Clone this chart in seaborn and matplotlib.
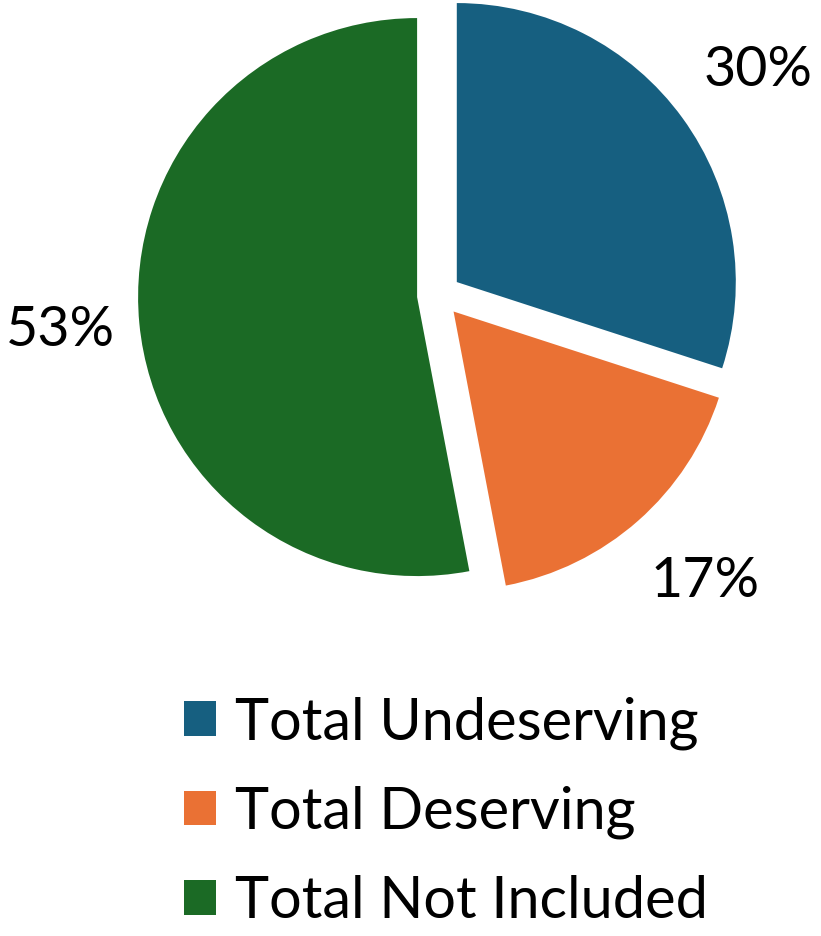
import matplotlib
matplotlib.use("Agg")
import matplotlib.pyplot as plt
import seaborn as sns

categories = ["Total Undeserving", "Total Deserving", "Total Not Included"]
values = [30, 17, 53]
colors = ["#165f80", "#ea7134", "#1b6a25"]

sns.set_theme(style="white")
plt.rcParams['font.family'] = ['Lato', 'DejaVu Sans']
plt.rcParams['text.color'] = 'black'

W, H = 821, 936
fig = plt.figure(figsize=(W / 100, H / 100), dpi=100)
ax = fig.add_axes([0, 0, 1, 1])

wedges, texts, autotexts = ax.pie(
    values, colors=colors, startangle=90, counterclock=False,
    center=(439, H - 295), radius=279, explode=[22, 22, 22],
    autopct=lambda p: f"{p:.0f}%", pctdistance=1.29,
    textprops=dict(fontsize=40, color='black'),
    wedgeprops=dict(linewidth=0), frame=True)
# small nudges of the label placement
for t, dx in zip(autotexts, [10, 14, 2]):
    x, y = t.get_position()
    t.set_position((x + dx, y))
ax.set_xlim(0, W)
ax.set_ylim(0, H)
ax.set_aspect('equal')
ax.axis('off')

leg = fig.legend(wedges, categories, loc='upper left',
                 bbox_to_anchor=(161 / W, 1 - 673 / H),
                 frameon=False, fontsize=41.5, handlelength=0.55, handleheight=0.55,
                 handletextpad=0.33, labelspacing=0.62, borderaxespad=0,
                 labelcolor='black')

fig.savefig("out.png", dpi=100)
